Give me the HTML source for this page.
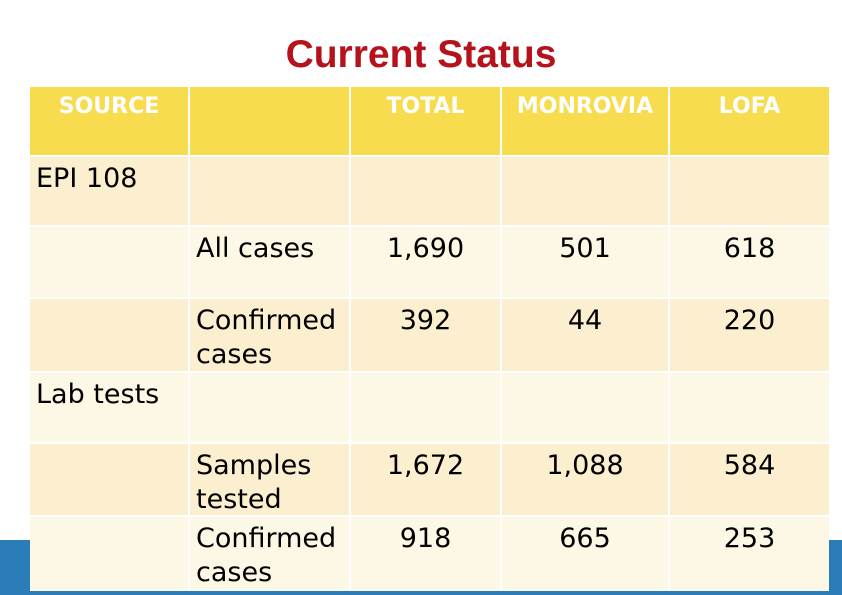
<!DOCTYPE html>
<html><head><meta charset="utf-8"><style>
body{margin:0;width:842px;height:595px;background:#fff;position:relative;overflow:hidden;font-family:"DejaVu Sans","Liberation Sans",sans-serif}
.c{position:absolute;box-sizing:border-box;color:#000;font-size:27px;line-height:34px;white-space:nowrap}
.h{background:#f8dc50;color:#fff;font-weight:bold;font-size:22px;text-align:center;padding-top:5px;line-height:30px}
.d{background:#fcefcf}.l{background:#fdf7e6}
.n{text-align:center}
</style></head><body>
<div style="position:absolute;left:0;width:842px;top:33px;text-align:center;font-family:'Liberation Sans',sans-serif;font-weight:bold;font-size:39px;color:#b5121b">Current Status</div>
<div style="position:absolute;left:0;top:540px;width:842px;height:55px;background:#2a7db8"></div>
<div style="position:absolute;left:30px;top:87px;width:799px;height:504px;background:#fff"></div>
<div id="t"></div>
<script>
const cols=[30,188,349,500,668,829];
const rows=[[87,155],[157,225],[227,297],[299,371],[373,442],[444,515],[517,591]];
const header=['SOURCE','','TOTAL','MONROVIA','LOFA'];
const body=[
['EPI 108','','','',''],
['','All cases','1,690','501','618'],
['','Confirmed<br>cases','392','44','220'],
['Lab tests','','','',''],
['','Samples<br>tested','1,672','1,088','584'],
['','Confirmed<br>cases','918','665','253']];
const t=document.getElementById('t');
rows.forEach((r,i)=>{
 for(let j=0;j<5;j++){
  const d=document.createElement('div');
  
  
  let cls='c ';
  if(i==0)cls+='h';else cls+=(i%2==1?'d':'l');
  if(j>=2&&i>0)cls+=' n';
  d.className=cls;
  d.style.left=(cols[j]+(j>0?2:0))+'px';
  d.style.width=(cols[j+1]-cols[j]-(j>0?2:0))+'px';
  d.style.top=r[0]+'px';d.style.height=(r[1]-r[0])+'px';
  if(i>0){d.style.paddingTop='5px';d.style.paddingLeft=(j<2?'6px':'0');}
  d.innerHTML=i==0?header[j]:body[i-1][j];
  t.appendChild(d);
 }
});
</script>
</body></html>
